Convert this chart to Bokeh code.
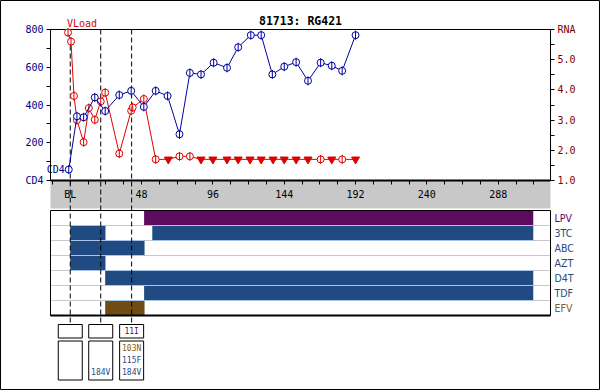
import numpy as np
from bokeh.plotting import figure
from bokeh.models import Range1d, LinearAxis, FixedTicker, PrintfTickFormatter
from bokeh.core.properties import value
from bokeh.embed import file_html
from bokeh.resources import INLINE

# ---------------- data ----------------
title_text = "81713: RG421"

cd4_week = [-1, 4.5, 9, 16.5, 23.5, 33, 41, 49.5, 57.5, 65.5, 73.5, 80.5, 88, 96.5,
            105.5, 113, 121.5, 128.5, 136, 144, 152, 160, 168.5, 176, 183, 192]
cd4_count = [58, 340, 335, 440, 368, 453, 475, 390, 475, 448, 245, 570, 562, 624,
             597, 706, 770, 770, 562, 603, 627, 528, 624, 608, 581, 770]

rna_week = [-1.5, 0.5, 2.5, 4.5, 9, 12.5, 16.5, 20.5, 23.5, 33, 41, 42, 49.5, 57.5,
            66, 73.5, 80.5, 88, 96, 105.5, 113, 121, 128.5, 136.5, 144, 152, 160,
            168.5, 176, 183, 192]
rna_log = [5.9, 5.6, 3.8, 3.0, 2.27, 3.4, 3.01, 3.62, 3.91, 1.89, 3.31, 3.42, 3.7, 1.7,
           1.7, 1.8, 1.8, 1.7, 1.7, 1.7, 1.7, 1.7, 1.7, 1.7, 1.7, 1.7, 1.7,
           1.7, 1.7, 1.7, 1.7]
rna_below_limit = [False, False, False, False, False, False, False, False, False, False,
                   False, False, False, False, True, False, False, True, True, True,
                   True, True, True, True, True, True, True, False, True, False, True]

x_ticks = [0, 48, 96, 144, 192, 240, 288]
x_minor = [-12, 12, 24, 36, 60, 72, 84, 108, 120, 132, 156, 168, 180, 204, 216, 228,
           252, 264, 276, 300, 312]
cd4_ticks = [0, 200, 400, 600, 800]
cd4_minor = [100, 300, 500, 700]
rna_ticks = [1, 2, 3, 4, 5, 6]
rna_minor = [1.5, 2.5, 3.5, 4.5, 5.5]

test_week = [0, 20.5, 41.3]

drugs = ["LPV", "3TC", "ABC", "AZT", "D4T", "TDF", "EFV"]
drug_class = ["PI", "NRTI", "NRTI", "NRTI", "NRTI", "NRTI", "NNRTI"]
bar_drug = ["LPV", "3TC", "3TC", "ABC", "AZT", "D4T", "TDF", "EFV"]
bar_start = [49.7, 0, 55.2, 0, 0, 23.5, 49.7, 23.5]
bar_end = [311.6, 23.7, 311.6, 50, 23.7, 311.6, 311.6, 50]

pi_mut = [[], [], ["11I"]]
nrti_mut = [[], ["184V"], ["115F", "184V"]]
nnrti_mut = [[], [], ["103N"]]

# ---------------- styles / layout ----------------
BLUE = "#0000a0"
RED = "#e00000"
NAVY = "#000080"
MAROON = "#800000"
CLASS_COLOR = {"PI": "#5e0a5e", "NRTI": "#1f4a82", "NNRTI": "#6e4c14"}
LABEL_COLOR = {"PI": "#660066", "NRTI": "#2a4a7a", "NNRTI": "#806020"}
MONO = "DejaVu Sans Mono"
COND = "DejaVu Sans Condensed"

W, H = 600, 390
PX_L, PX_R = 50, 550           # chart left / right edges (px)
WEEK_L, WEEK_R = -13.3, 323.2  # weeks at those edges
Y_TOP, Y_ZERO = 29, 180        # px of CD4 = 800 / CD4 = 0 (RNA 6 / RNA 1)
STRIP_BOT = 208                # bottom of gray time strip
DRUG_TOP, ROW_PX = 210, 15
DRUG_BOT = DRUG_TOP + ROW_PX * len(drugs)
BOX1_TOP, BOX1_H = 324, 13.5
BOX2_TOP, BOX2_H = 340.5, 39
BOX_W = 24

sc = (PX_R - PX_L) / (WEEK_R - WEEK_L)
x_range = Range1d(WEEK_L - PX_L / sc, WEEK_R + (W - PX_R) / sc)
cd4_pp = 800 / (Y_ZERO - Y_TOP)
rna_pp = 5 / (Y_ZERO - Y_TOP)
y_range = Range1d(-(H - Y_ZERO) * cd4_pp, 800 + Y_TOP * cd4_pp)

p = figure(width=W, height=H, x_range=x_range, y_range=y_range,
           x_axis_type=None, y_axis_type=None, min_border=0,
           output_backend="svg", toolbar_location=None)
p.extra_y_ranges = {
    "rna": Range1d(1 - (H - Y_ZERO) * rna_pp, 6 + Y_TOP * rna_pp),
    "drug": Range1d(-(H - DRUG_BOT) / ROW_PX, len(drugs) + DRUG_TOP / ROW_PX),
    "px": Range1d(H, 0),
}
p.outline_line_color = "black"
p.outline_line_width = 1
p.background_fill_color = "white"
p.border_fill_color = "white"

# title
p.text(x=[(WEEK_L + WEEK_R) / 2], y=[20], y_range_name="px", text=[title_text],
       text_align="center", text_baseline="middle", text_font=value(MONO),
       text_font_style="bold", text_font_size="11.5px", text_color="black")

# gray time strip
p.quad(left=[WEEK_L], right=[WEEK_R], top=[Y_ZERO], bottom=[STRIP_BOT], y_range_name="px",
       fill_color="#c8c8c8", line_color=None)
# top border of chart
p.segment(x0=[WEEK_L], x1=[WEEK_R], y0=[800], y1=[800], line_color="black", line_width=1)

# axes
xa = LinearAxis(fixed_location=0, bounds=(WEEK_L, WEEK_R),
                ticker=FixedTicker(ticks=x_ticks, minor_ticks=x_minor))
xa.major_label_overrides = {0: "BL"}
xa.major_tick_in = 0
xa.major_tick_out = 4
xa.minor_tick_in = 0
xa.minor_tick_out = 4
xa.axis_line_width = 2
xa.major_label_standoff = 4
xa.major_label_text_font = MONO
xa.major_label_text_font_size = "10px"
xa.major_label_text_color = "black"
p.add_layout(xa, "below")

ya = LinearAxis(fixed_location=WEEK_L, bounds=(0, 800),
                ticker=FixedTicker(ticks=cd4_ticks, minor_ticks=cd4_minor))
ya.major_label_overrides = {0: "CD4"}
ya.major_tick_in = 0
ya.major_tick_out = 4
ya.minor_tick_in = 0
ya.minor_tick_out = 4
ya.major_label_standoff = 3
ya.major_label_text_font = MONO
ya.major_label_text_font_size = "10px"
ya.major_label_text_color = NAVY
p.add_layout(ya, "left")

ra = LinearAxis(y_range_name="rna", fixed_location=WEEK_R, bounds=(1, 6),
                ticker=FixedTicker(ticks=rna_ticks, minor_ticks=rna_minor),
                formatter=PrintfTickFormatter(format="%.1f"))
ra.major_label_overrides = {6: "RNA"}
ra.major_tick_in = 0
ra.major_tick_out = 4
ra.minor_tick_in = 0
ra.minor_tick_out = 4
ra.major_label_standoff = 3
ra.major_label_text_font = MONO
ra.major_label_text_font_size = "10px"
ra.major_label_text_color = MAROON
p.add_layout(ra, "right")

# ---------------- drug panel ----------------
n = len(drugs)
row_y = {d: n - 0.5 - i for i, d in enumerate(drugs)}
cls = dict(zip(drugs, drug_class))
sep = list(range(1, n))
p.segment(x0=[WEEK_L] * len(sep), x1=[WEEK_R] * len(sep), y0=sep, y1=sep,
          y_range_name="drug", line_color="#c8c8c8", line_width=1)

by = [row_y[d] for d in bar_drug]
bc = [CLASS_COLOR[cls[d]] for d in bar_drug]
p.hbar(y=by, left=bar_start, right=bar_end, height=1, y_range_name="drug",
       fill_color=bc, line_color=None)

sx0, sx1, sy = [], [], []
for yy, l, r in zip(by, bar_start, bar_end):
    for e in (yy - 0.5, yy + 0.5):
        if 0 < e < n:
            sx0.append(l); sx1.append(r); sy.append(e)
p.segment(x0=sx0, y0=sy, x1=sx1, y1=sy, y_range_name="drug",
          line_color="#a8c4e6", line_width=1)

p.quad(left=[WEEK_L], right=[WEEK_R], bottom=[0], top=[n], y_range_name="drug",
       fill_color=None, line_color="black", line_width=1)
p.segment(x0=[WEEK_L], x1=[WEEK_R], y0=[0], y1=[0], y_range_name="drug",
          line_color="black", line_width=2)

p.text(x=[WEEK_R] * n, y=[row_y[d] for d in drugs], y_range_name="drug", text=drugs,
       x_offset=4, text_align="left", text_baseline="middle",
       text_color=[LABEL_COLOR[c] for c in drug_class],
       text_font=value(COND), text_font_size="10.5px")

# ---------------- test markers ----------------
nt = len(test_week)
p.segment(x0=test_week, x1=test_week, y0=[Y_TOP] * nt, y1=[BOX1_TOP] * nt,
          y_range_name="px", line_color="black", line_width=1, line_dash="5 3")

p.rect(x=test_week, y=[BOX1_TOP + BOX1_H / 2] * nt, width=BOX_W, width_units="screen",
       height=BOX1_H, y_range_name="px", fill_color="white", line_color="black")
p.rect(x=test_week, y=[BOX2_TOP + BOX2_H / 2] * nt, width=BOX_W, width_units="screen",
       height=BOX2_H, y_range_name="px", fill_color="white", line_color="black")

tx, ty, tt, tc = [], [], [], []
for w, pi in zip(test_week, pi_mut):
    for m in pi:
        tx.append(w); ty.append(BOX1_TOP + BOX1_H / 2); tt.append(m)
        tc.append(LABEL_COLOR["PI"])
for w, nr, nn in zip(test_week, nrti_mut, nnrti_mut):
    lines = [(m, LABEL_COLOR["NNRTI"]) for m in nn] + [(m, CLASS_COLOR["NRTI"]) for m in nr]
    k_all = len(lines)
    for j, (m, c) in enumerate(lines):
        k = k_all - 1 - j
        tx.append(w); ty.append(BOX2_TOP + BOX2_H - 7.5 - 12 * k); tt.append(m); tc.append(c)
p.text(x=tx, y=ty, y_range_name="px", text=tt, text_color=tc, text_align="center",
       text_baseline="middle", text_font=value(MONO), text_font_size="8px")

# ---------------- series ----------------
p.line(rna_week, rna_log, y_range_name="rna", line_color=RED, line_width=1)
det_x = [w for w, b in zip(rna_week, rna_below_limit) if not b]
det_y = [v for v, b in zip(rna_log, rna_below_limit) if not b]
und_x = [w for w, b in zip(rna_week, rna_below_limit) if b]
und_y = [v for v, b in zip(rna_log, rna_below_limit) if b]
p.scatter(det_x, det_y, y_range_name="rna", marker="circle", size=7,
          line_color=RED, fill_color="white", line_width=1)
p.scatter(det_x, det_y, y_range_name="rna", marker="dash", angle=np.pi / 2, size=9,
          line_color=RED, line_width=1)
p.scatter(und_x, und_y, y_range_name="rna", marker="inverted_triangle", size=8,
          line_color=RED, fill_color=RED)

p.line(cd4_week, cd4_count, line_color=BLUE, line_width=1)
p.scatter(cd4_week, cd4_count, marker="circle", size=7, line_color=BLUE,
          fill_color="white", line_width=1)
p.scatter(cd4_week, cd4_count, marker="dash", angle=np.pi / 2, size=9,
          line_color=BLUE, line_width=1)

# series name labels at first points
p.text(x=[cd4_week[0]], y=[cd4_count[0]], text=["CD4"], x_offset=-4, text_align="right",
       text_baseline="middle", text_color=NAVY, text_font=value(MONO), text_font_size="10px")
p.text(x=[rna_week[0]], y=[rna_log[0]], y_range_name="rna", text=["VLoad"], x_offset=-1,
       y_offset=-4, text_align="left", text_baseline="bottom", text_color=RED,
       text_font=value(MONO), text_font_size="10px")

open("out.html", "w").write(file_html(p, INLINE))
